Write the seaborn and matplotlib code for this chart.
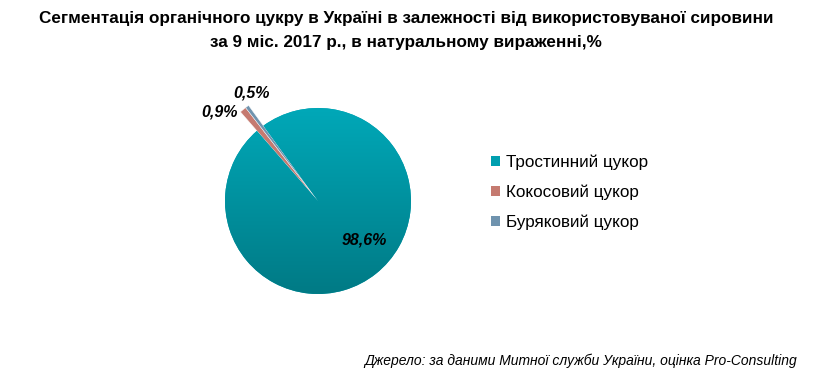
import numpy as np
import matplotlib
matplotlib.use("Agg")
import matplotlib.pyplot as plt
import seaborn as sns
from matplotlib.colors import LinearSegmentedColormap
from matplotlib.patches import Patch

categories = ["Тростинний цукор", "Кокосовий цукор", "Буряковий цукор"]
values = [98.6, 0.9, 0.5]
value_labels = ["98,6%", "0,9%", "0,5%"]
colors = ["#009FAF", "#C57A70", "#6F93AE"]

title_lines = ["Сегментація органічного цукру в Україні в залежності від використовуваної сировини",
               "за 9 міс. 2017 р., в натуральному вираженні,%"]
source = "Джерело: за даними Митної служби України, оцінка Pro-Consulting"

sns.set_style("white")
plt.rcParams['font.family'] = ['Liberation Sans', 'DejaVu Sans']
plt.rcParams['text.color'] = 'black'

W, H = 819, 389
fig = plt.figure(figsize=(W / 100, H / 100), dpi=100)

cx, cy, r = 318, 389 - 201, 93
a = 1.4
side = 2 * a * r
ax = fig.add_axes([(cx - side / 2) / W, (cy - side / 2) / H, side / W, side / H])

wedges, _ = ax.pie(values, colors=colors, startangle=126, counterclock=False,
                   radius=1.0, wedgeprops=dict(linewidth=0))
ax.set_aspect('equal')
ax.axis('off')
for w in wedges[1:]:
    w.set_radius(1.27)
    w.set_edgecolor("white")
    w.set_linewidth(0.3)

# gradient on the main slice
cmap = LinearSegmentedColormap.from_list("teal", ["#007A85", "#00A8B8"])
grad = np.linspace(0, 1, 256).reshape(-1, 1)
im = ax.imshow(grad, extent=[-1, 1, -1, 1], origin='lower', cmap=cmap,
               aspect='auto', zorder=wedges[0].get_zorder() + 0.1)
im.set_clip_path(wedges[0])
ax.set_xlim(-a, a)
ax.set_ylim(-a, a)

lab_pos = [(0.5, -0.42), (-1.06, 0.96), (-0.71, 1.16)]
for (x, y), t in zip(lab_pos, value_labels):
    ax.text(x, y, t, ha='center', va='center', fontsize=11.5,
            fontweight='bold', fontstyle='italic', color='black', zorder=10)

for t, y in zip(title_lines, [19, 42]):
    fig.text(406 / W, 1 - y / H, t, ha='center', va='center', fontsize=12.3,
             fontweight='bold', color='black')

handles = [Patch(facecolor=c, edgecolor='none') for c in colors]
leg = fig.legend(handles, categories, loc='center left',
                 bbox_to_anchor=(484 / W, 1 - 192 / H), frameon=False,
                 fontsize=12.3, handlelength=0.55, handleheight=0.55,
                 handletextpad=0.35, labelspacing=0.85, borderaxespad=0)
for t in leg.get_texts():
    t.set_color('black')

fig.text(797 / W, 1 - 361 / H, source, ha='right', va='center',
         fontsize=10, fontstyle='italic', color='black')

fig.savefig("out.png", dpi=100)
